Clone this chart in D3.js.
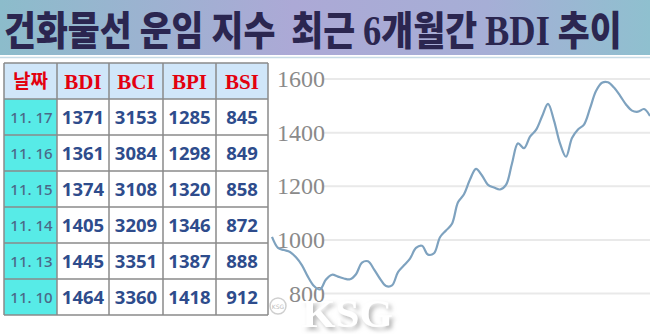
<!DOCTYPE html>
<html><head><meta charset="utf-8">
<script src="https://cdn.jsdelivr.net/npm/d3@7/dist/d3.min.js"></script>
<style>body{margin:0;background:#fff}svg{display:block}</style>
</head><body>
<svg id="c" width="650" height="334"></svg>
<script>
const title = "건화물선 운임 지수  최근 6개월간 BDI 추이";
const headers = ["날짜", "BDI", "BCI", "BPI", "BSI"];
const dates = ["11. 17", "11. 16", "11. 15", "11. 14", "11. 13", "11. 10"];
const bdi = [1371, 1361, 1374, 1405, 1445, 1464];
const bci = [3153, 3084, 3108, 3209, 3351, 3360];
const bpi = [1285, 1298, 1320, 1346, 1387, 1418];
const bsi = [845, 849, 858, 872, 888, 912];
const yTicks = [800, 1000, 1200, 1400, 1600];
// BDI over the last 6 months (evenly spaced samples)
const bdiTrend = [1011, 970, 962, 955, 935, 905, 862, 828, 815, 852, 870, 863, 856, 853, 872, 915,
  920, 890, 855, 828, 830, 880, 905, 930, 970, 978, 945, 950, 1010, 1035, 1060, 1140,
  1170, 1225, 1265, 1240, 1205, 1195, 1188, 1205, 1285, 1360, 1342, 1385, 1410, 1460,
  1507, 1445, 1360, 1310, 1380, 1412, 1430, 1490, 1555, 1586, 1588, 1568, 1538, 1505,
  1482, 1478, 1488, 1462];

const svg = d3.select("#c");
const defs = svg.append("defs");
const g = defs.append("linearGradient").attr("id", "tg").attr("x1", 0).attr("x2", 1);
[["0%", "#8cbccb"], ["45%", "#aca9d6"], ["75%", "#a6aed6"], ["100%", "#8fc0cf"]].forEach(s =>
  g.append("stop").attr("offset", s[0]).attr("stop-color", s[1]));
const sh = defs.append("filter").attr("id", "sh").attr("x", "-20%").attr("y", "-20%").attr("width", "150%").attr("height", "150%");
sh.append("feDropShadow").attr("dx", 3).attr("dy", 3).attr("stdDeviation", 2)
  .attr("flood-color", "#9a9a9a").attr("flood-opacity", 0.7);

// title bar
svg.append("rect").attr("x", 0).attr("y", 0).attr("width", 650).attr("height", 55).attr("fill", "url(#tg)");
svg.append("line").attr("x1", 0).attr("x2", 650).attr("y1", 57.5).attr("y2", 57.5)
  .attr("stroke", "#c7dbe6").attr("stroke-width", 1.5);
const tg = svg.append("g");
const tt = tg.append("text").attr("x", 0).attr("y", 0)
  .style("white-space", "pre")
  .attr("font-family", "'Noto Sans CJK KR', sans-serif").attr("font-weight", 900)
  .attr("font-size", 40).attr("fill", "#2b2650");
title.split(/(6|BDI)/).forEach(p => {
  const ts = tt.append("tspan").text(p);
  if (p === "6" || p === "BDI") ts.attr("font-family", "'Liberation Serif', serif").attr("font-weight", 700).attr("font-size", 42);
});
const tw = tt.node().getComputedTextLength();
tg.attr("transform", `translate(4,45) scale(${618 / tw},1)`);

// chart
const x = d3.scaleLinear().domain([0, bdiTrend.length - 1]).range([272, 650]);
const y = d3.scaleLinear().domain([800, 1600]).range([293.5, 79]);
const grid = svg.append("g");
yTicks.forEach(t => {
  grid.append("line").attr("x1", 324).attr("x2", 650).attr("y1", y(t)).attr("y2", y(t))
    .attr("stroke", "#e9e9e9").attr("stroke-width", 2);
  grid.append("text").attr("x", 325).attr("y", y(t) + 8).attr("text-anchor", "end")
    .attr("font-family", "'Liberation Serif', serif").attr("font-size", 24).attr("fill", "#8a8a8a")
    .text(t);
});
const line = d3.line().x((d, i) => x(i)).y(d => y(d)).curve(d3.curveCatmullRom.alpha(0.5));
svg.append("path").datum(bdiTrend).attr("d", line).attr("fill", "none")
  .attr("stroke", "#7ea2bf").attr("stroke-width", 2.2);

// table
const colX = [4, 57, 109, 163, 216, 268];
const rowY = [63, 99, 135, 171, 207, 243, 279, 315];
const tbl = svg.append("g");
const cols = [bdi, bci, bpi, bsi];
for (let c = 0; c < 5; c++) {
  tbl.append("rect").attr("x", colX[c]).attr("y", rowY[0]).attr("width", colX[c + 1] - colX[c])
    .attr("height", rowY[1] - rowY[0]).attr("fill", "#d0e6f9");
}
for (let r = 0; r < dates.length; r++) {
  tbl.append("rect").attr("x", colX[0]).attr("y", rowY[r + 1]).attr("width", colX[1] - colX[0])
    .attr("height", rowY[r + 2] - rowY[r + 1]).attr("fill", "#57ebe7");
  for (let c = 1; c < 5; c++) {
    tbl.append("rect").attr("x", colX[c]).attr("y", rowY[r + 1]).attr("width", colX[c + 1] - colX[c])
      .attr("height", rowY[r + 2] - rowY[r + 1]).attr("fill", "#fff");
  }
}
colX.forEach(cx => tbl.append("line").attr("x1", cx).attr("x2", cx).attr("y1", rowY[0]).attr("y2", rowY[rowY.length - 1])
  .attr("stroke", "#8a8a8a").attr("stroke-width", 1.5));
rowY.forEach(ry => tbl.append("line").attr("x1", colX[0]).attr("x2", colX[5]).attr("y1", ry).attr("y2", ry)
  .attr("stroke", "#8a8a8a").attr("stroke-width", 1.5));
headers.forEach((h, c) => {
  const t = tbl.append("text").attr("x", (colX[c] + colX[c + 1]) / 2).attr("y", 89)
    .attr("text-anchor", "middle").attr("fill", "#e3000f").text(h);
  if (c === 0) t.attr("font-family", "'Noto Sans CJK KR', sans-serif").attr("font-weight", 700).attr("font-size", 19).attr("y", 88);
  else t.attr("font-family", "'Liberation Serif', serif").attr("font-weight", 700).attr("font-size", 21);
});
dates.forEach((d, r) => {
  const cy = (rowY[r + 1] + rowY[r + 2]) / 2;
  tbl.append("text").attr("x", (colX[0] + colX[1]) / 2 + 1).attr("y", cy + 5.5)
    .style("white-space", "pre")
    .attr("text-anchor", "middle").attr("font-family", "'Noto Sans', sans-serif").attr("font-weight", 500)
    .attr("font-size", 15).attr("fill", "#4b6887").text(d);
  cols.forEach((arr, c) => {
    tbl.append("text").attr("x", (colX[c + 1] + colX[c + 2]) / 2).attr("y", cy + 7)
      .attr("text-anchor", "middle").attr("font-family", "'Noto Sans', sans-serif")
      .attr("font-weight", 700).attr("font-size", 18.5).attr("fill", "#2e4c8c").text(arr[r]);
  });
});

// KSG watermark
const wm = svg.append("g");
wm.append("circle").attr("cx", 278).attr("cy", 306).attr("r", 8).attr("fill", "#fff")
  .attr("stroke", "#cfcfcf").attr("stroke-width", 1.5);
wm.append("text").attr("x", 278).attr("y", 308.5).attr("text-anchor", "middle")
  .attr("font-family", "'DejaVu Sans', sans-serif").attr("font-size", 6).attr("fill", "#bdbdbd").text("KSG");
wm.append("text").attr("x", 302).attr("y", 327).attr("font-family", "'Liberation Serif', serif")
  .attr("font-weight", 700).attr("font-size", 40).attr("fill", "#ffffff").attr("filter", "url(#sh)")
  .attr("textLength", 91).attr("lengthAdjust", "spacingAndGlyphs").text("KSG");
</script>
</body></html>
